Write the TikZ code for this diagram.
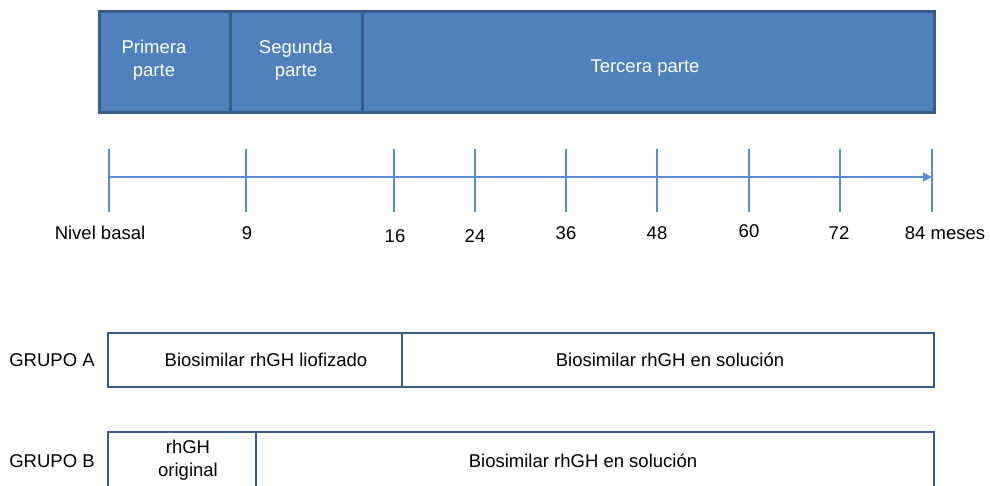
\documentclass[tikz,border=0pt]{standalone}
\usepackage{fontspec}
\setmainfont{Liberation Sans}
\usetikzlibrary{arrows.meta}
\definecolor{phasefill}{HTML}{4F81BD}
\definecolor{phaseedge}{HTML}{385D8A}
\definecolor{axisblue}{HTML}{5B8CD2}
\begin{document}
\begin{tikzpicture}[x=1pt,y=-1pt,
  phase/.style={draw=phaseedge,fill=phasefill,line width=3pt,minimum height=101pt,inner sep=0pt},
  ptxt/.style={text=white,font=\fontsize{18.5}{22.5}\selectfont,align=center,inner sep=0pt},
  grp/.style={draw=phaseedge,fill=white,line width=2.5pt,inner sep=0pt},
  lbl/.style={font=\fontsize{18.5}{22.5}\selectfont,inner sep=0pt,align=center},
  tick/.style={draw=axisblue,line width=1.2pt}]
\clip (0,0) rectangle (990,485);
\useasboundingbox (0,0) rectangle (990,485);
% top phases
\node[phase,minimum width=131pt] (p1) at (164.5,61.5) {};
\node[phase,minimum width=132pt] (p2) at (296,61.5) {};
\node[phase,minimum width=572pt] (p3) at (648,61.5) {};
\node[ptxt] (p1t) at (154,60) {Primera\\parte};
\node[ptxt] (p2t) at (296,60) {Segunda\\parte};
\node[ptxt] (p3t) at (645,68) {Tercera parte};
% timeline
\coordinate (t0) at (109,177);
\coordinate (tend) at (932,177);
\draw[tick,-{Triangle[length=9pt,width=9pt]}] (t0) -- (tend);
\foreach \x/\n in {109/a,246/b,394/c,475/d,566/e,657/f,749/g,840/h,932/i}{
  \coordinate (top\n) at (\x,149);
  \coordinate (bot\n) at (\x,212);
  \draw[tick] (top\n) -- (bot\n);
}
\node[lbl] (la) at (100,233) {Nivel basal};
\node[lbl] (lb) at (247,233) {9};
\node[lbl] (lc) at (395,236) {16};
\node[lbl] (ld) at (475,236) {24};
\node[lbl] (le) at (566,233) {36};
\node[lbl] (lf) at (657,233) {48};
\node[lbl] (lg) at (749,231) {60};
\node[lbl] (lh) at (839,233) {72};
\node[lbl] (li) at (945,233) {84 meses};
% group A
\node[lbl] (ga) at (52,360) {GRUPO A};
\node[grp,minimum width=294pt,minimum height=54pt] (a1) at (255,360) {};
\node[grp,minimum width=532pt,minimum height=54pt] (a2) at (668,360) {};
\node[lbl] (a1t) at (266,360) {Biosimilar rhGH liofizado};
\node[lbl] (a2t) at (670,360) {Biosimilar rhGH en solución};
% group B
\node[lbl] (gb) at (52,461) {GRUPO B};
\node[grp,minimum width=148pt,minimum height=80pt] (b1) at (182,472) {};
\node[grp,minimum width=678pt,minimum height=80pt] (b2) at (595,472) {};
\node[lbl] (b1t) at (188,460) {rhGH\\original};
\node[lbl] (b2t) at (583,461) {Biosimilar rhGH en solución};
\end{tikzpicture}
\end{document}
